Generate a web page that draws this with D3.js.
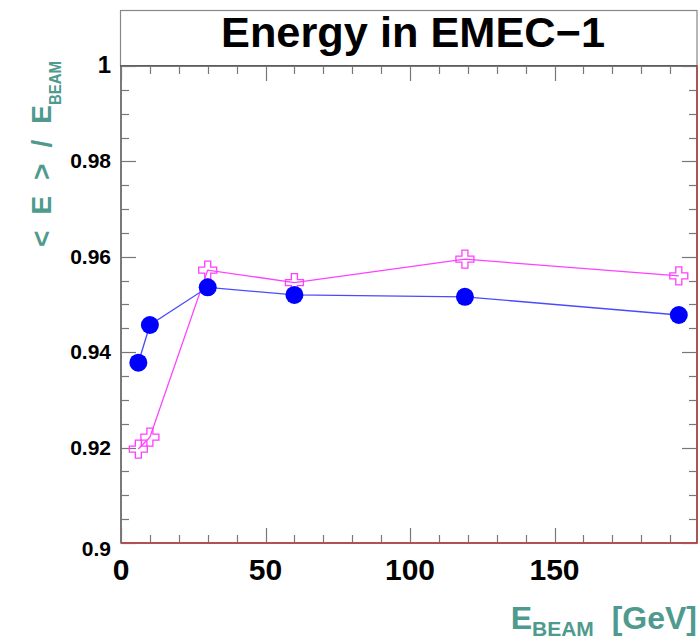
<!DOCTYPE html>
<html>
<head>
<meta charset="utf-8">
<script src="https://cdn.jsdelivr.net/npm/d3@7"></script>
<style>
  html, body { margin: 0; padding: 0; background: #fff; }
  svg { display: block; font-family: "Liberation Sans", Arial, sans-serif; }
</style>
</head>
<body>
<svg id="chart" width="698" height="640"></svg>
<script>
// ---- data ----
const titleText = "Energy in EMEC\u22121";
const beamEnergies = [6, 10, 30, 60, 119, 193];
const seriesBlue = [0.9378, 0.9457, 0.9536, 0.9520, 0.9516, 0.9478];
const seriesMagenta = [0.9197, 0.9222, 0.9572, 0.9546, 0.9595, 0.9560];
const xTickValues = [0, 50, 100, 150];
const xTickLabels = ["0", "50", "100", "150"];
const yTickValues = [0.9, 0.92, 0.94, 0.96, 0.98, 1.0];
const yTickLabels = ["0.9", "0.92", "0.94", "0.96", "0.98", "1"];

// ---- layout ----
const svg = d3.select("#chart");
const L = 121, R = 697, T = 66, B = 543;
const teal = "#4f9a8e";

const x = d3.scaleLinear().domain([0, 199.3]).range([L, R]);
const y = d3.scaleLinear().domain([0.9, 1.0]).range([B, T]);

// title box
svg.append("rect").attr("x", 120.5).attr("y", 10.5).attr("width", R - 120.5).attr("height", T - 10.5)
  .attr("fill", "#fff").attr("stroke", "#888").attr("stroke-width", 1.2);
svg.append("text").attr("x", 413).attr("y", 47).attr("text-anchor", "middle")
  .attr("font-size", 42).attr("font-weight", "bold").attr("fill", "#000")
  .attr("textLength", 384).attr("lengthAdjust", "spacingAndGlyphs")
  .text(titleText);

// frame
svg.append("rect").attr("x", L).attr("y", T).attr("width", R - L).attr("height", B - T)
  .attr("fill", "#fff").attr("stroke", "#222").attr("stroke-width", 1.2);

// ticks
const g = svg.append("g").attr("stroke", "#777").attr("stroke-width", 1.2);
const xMinor = d3.range(0, 200, 10);
xMinor.forEach(v => {
  const major = v % 50 === 0;
  const len = major ? 15 : 8;
  const px = Math.round(x(v)) + 0.5;
  g.append("line").attr("x1", px).attr("x2", px).attr("y1", B).attr("y2", B - len);
  g.append("line").attr("x1", px).attr("x2", px).attr("y1", T).attr("y2", T + len);
});
const yMinor = d3.range(0, 21).map(i => 0.9 + i * 0.005);
yMinor.forEach((v, i) => {
  const major = i % 4 === 0;
  const len = major ? 15 : 8;
  const py = Math.round(y(v)) + 0.5;
  g.append("line").attr("x1", L).attr("x2", L + len).attr("y1", py).attr("y2", py);
  g.append("line").attr("x1", R).attr("x2", R - len).attr("y1", py).attr("y2", py);
});

// red right & bottom frame overlay
svg.append("path").attr("d", `M${L},${B}H${R}V${T}`).attr("fill", "none")
  .attr("stroke", "#e03030").attr("stroke-opacity", 0.75).attr("stroke-width", 1.3);

// axis labels
svg.append("g").selectAll("text").data(xTickValues).join("text")
  .attr("x", d => x(d)).attr("y", 580).attr("text-anchor", "middle")
  .attr("font-size", 30).attr("font-weight", "bold").attr("fill", "#000")
  .text((d, i) => xTickLabels[i]);
svg.append("g").selectAll("text").data(yTickValues).join("text")
  .attr("x", 111).attr("y", (d, i) => y(d) + (i === 0 ? 13 : 7)).attr("text-anchor", "end")
  .attr("font-size", d => d === 1 ? 24 : 21).attr("font-weight", "bold").attr("fill", "#000")
  .text((d, i) => yTickLabels[i]);

// series lines
const line = d3.line().x(d => x(d[0])).y(d => y(d[1]));
const blueData = beamEnergies.map((e, i) => [e, seriesBlue[i]]);
const magData = beamEnergies.map((e, i) => [e, seriesMagenta[i]]);
svg.append("path").datum(magData).attr("d", line).attr("fill", "none")
  .attr("stroke", "#ff40ff").attr("stroke-width", 1.3);
svg.append("path").datum(blueData).attr("d", line).attr("fill", "none")
  .attr("stroke", "#4a4aff").attr("stroke-width", 1.3);

// markers
svg.append("g").selectAll("path").data(magData).join("path")
  .attr("transform", d => `translate(${x(d[0])},${y(d[1])})`)
  .attr("d", d3.symbol(d3.symbolCross, 180))
  .attr("fill", "none").attr("stroke", "#ff40ff").attr("stroke-width", 1.3);
svg.append("g").selectAll("circle").data(blueData).join("circle")
  .attr("cx", d => x(d[0])).attr("cy", d => y(d[1])).attr("r", 9)
  .attr("fill", "#0000ff");

// y axis title (rotated)
svg.append("text").attr("transform", "translate(51,247) rotate(-90)")
  .attr("text-anchor", "start").attr("font-weight", "bold").attr("fill", teal)
  .attr("font-size", 28).attr("textLength", 142).attr("lengthAdjust", "spacing")
  .text("< E > / E");
svg.append("text").attr("transform", "translate(61,105) rotate(-90)")
  .attr("text-anchor", "start").attr("font-weight", "bold").attr("fill", teal)
  .attr("font-size", 17).attr("textLength", 44).attr("lengthAdjust", "spacingAndGlyphs")
  .text("BEAM");

// x axis title
const xt = svg.append("text").attr("x", 697).attr("y", 629).attr("text-anchor", "end")
  .attr("font-weight", "bold").attr("fill", teal);
xt.append("tspan").attr("font-size", 32).text("E");
xt.append("tspan").attr("font-size", 21).attr("dy", 7).text("BEAM");
xt.append("tspan").attr("font-size", 32).attr("dy", -7).text("\u00a0\u00a0[GeV]");
</script>
</body>
</html>
